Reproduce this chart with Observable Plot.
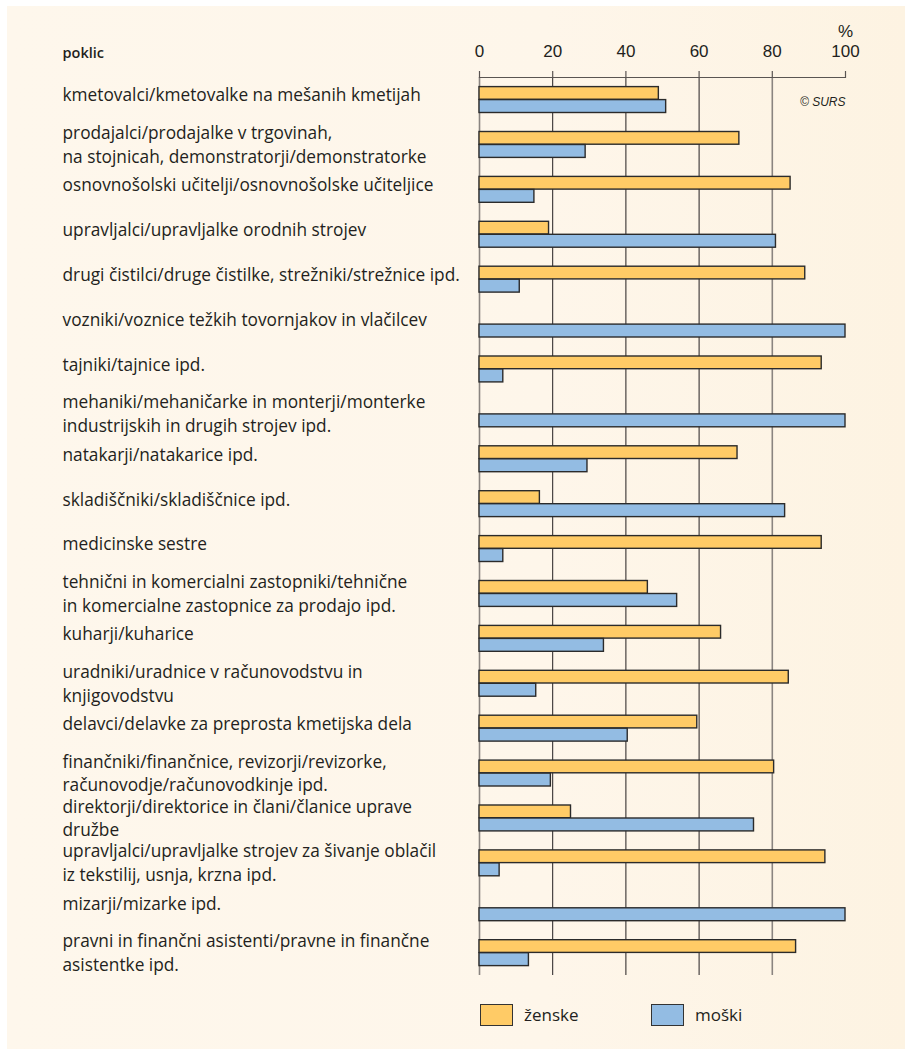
<!DOCTYPE html>
<html>
<head>
<meta charset="utf-8">
<script src="https://cdn.jsdelivr.net/npm/d3@7"></script>
<script src="https://cdn.jsdelivr.net/npm/@observablehq/plot@0.6"></script>
<style>
  html, body { margin: 0; padding: 0; background: #ffffff; }
  #page { position: relative; width: 905px; height: 1049px; overflow: hidden; }
  #panel { position: absolute; left: 7px; top: 6px; width: 898px; height: 1043px;
           background: linear-gradient(to right, #fef7ec 0%, #fef6ea 60%, #fdf3e2 100%); }
  #chart { position: absolute; left: 0; top: 0; }
  #legend { position: absolute; top: 1003px; left: 0; width: 905px; height: 24px;
            font-family: "Open Sans", Lato, sans-serif; font-size: 17px; color: #231f20; }
  .item { position: absolute; top: 0; display: flex; align-items: center; height: 23px; }
  .sw { width: 31px; height: 20px; border: 1.5px solid #333; margin-right: 11px; box-sizing: content-box; }
</style>
</head>
<body>
<div id="page">
  <div id="panel"></div>
  <div id="chart"></div>
  <div id="legend"></div>
</div>
<script>
// ---- data ----
const categories = [
  "kmetovalci/kmetovalke na mešanih kmetijah",
  "prodajalci/prodajalke v trgovinah,\nna stojnicah, demonstratorji/demonstratorke",
  "osnovnošolski učitelji/osnovnošolske učiteljice",
  "upravljalci/upravljalke orodnih strojev",
  "drugi čistilci/druge čistilke, strežniki/strežnice ipd.",
  "vozniki/voznice težkih tovornjakov in vlačilcev",
  "tajniki/tajnice ipd.",
  "mehaniki/mehaničarke in monterji/monterke\nindustrijskih in drugih strojev ipd.",
  "natakarji/natakarice ipd.",
  "skladiščniki/skladiščnice ipd.",
  "medicinske sestre",
  "tehnični in komercialni zastopniki/tehnične\nin komercialne zastopnice za prodajo ipd.",
  "kuharji/kuharice",
  "uradniki/uradnice v računovodstvu in\nknjigovodstvu",
  "delavci/delavke za preprosta kmetijska dela",
  "finančniki/finančnice, revizorji/revizorke,\nračunovodje/računovodkinje ipd.",
  "direktorji/direktorice in člani/članice uprave\ndružbe",
  "upravljalci/upravljalke strojev za šivanje oblačil\niz tekstilij, usnja, krzna ipd.",
  "mizarji/mizarke ipd.",
  "pravni in finančni asistenti/pravne in finančne\nasistentke ipd."
];
const zenske = [49, 71, 85, 19, 89, 0, 93.5, 0, 70.5, 16.5, 93.5, 46, 66, 84.5, 59.5, 80.5, 25, 94.5, 0, 86.5];
const moski  = [51, 29, 15, 81, 11, 100, 6.5, 100, 29.5, 83.5, 6.5, 54, 34, 15.5, 40.5, 19.5, 75, 5.5, 100, 13.5];
const seriesNames = ["ženske", "moški"];
const seriesColors = ["#ffcb66", "#93bce3"];
const xTicks = [0, 20, 40, 60, 80, 100];
const gridDark = [20, 40, 60];
const gridGrey = [0, 80];
const headerLabel = "poklic";
const unitLabel = "%";
const sourceLabel = "© SURS";

// ---- build tables ----
const rowsZ = categories.map((c, i) => ({cat: c, value: zenske[i]})).filter(d => d.value > 0);
const rowsM = categories.map((c, i) => ({cat: c, value: moski[i]})).filter(d => d.value > 0);
const singleLine = categories.filter(c => !c.includes("\n"));
const doubleLine = categories.filter(c => c.includes("\n"));
const sourceRow = [{cat: categories[0], text: sourceLabel}];

const labelFont = "'Open Sans', Lato, sans-serif";
const tickFont = "'Liberation Sans', Arial, sans-serif";

const chart = Plot.plot({
  width: 905,
  height: 985,
  marginTop: 77,
  marginBottom: 10,
  marginLeft: 479,
  marginRight: 60,
  style: {background: "transparent", fontFamily: tickFont, color: "#231f20"},
  x: {domain: [0, 100], axis: null},
  y: {domain: categories, padding: 0, round: false, axis: null},
  marks: [
    Plot.ruleX(gridDark, {stroke: "#231f20", strokeWidth: 1}),
    Plot.ruleX(gridGrey, {stroke: "#8a8480", strokeWidth: 1.6}),
    Plot.frame({stroke: "#5a5552", strokeWidth: 1.2, strokeDasharray: "366 100000"}),
    Plot.axisX(xTicks, {anchor: "top", tickSize: 7, tickPadding: 14, fontSize: 17,
      stroke: "#5a5552", strokeWidth: 1.2, fill: "#231f20", label: null, fontFamily: tickFont}),
    Plot.barX(rowsZ, {x: "value", y: "cat", fill: seriesColors[0], stroke: "#2b2b2b", strokeWidth: 1.4,
      insetTop: 9.6, insetBottom: 22.6}),
    Plot.barX(rowsM, {x: "value", y: "cat", fill: seriesColors[1], stroke: "#2b2b2b", strokeWidth: 1.4,
      insetTop: 22.6, insetBottom: 9.4}),
    Plot.text(singleLine, {y: d => d, frameAnchor: "left", textAnchor: "start", dx: -417, dy: -4,
      fontSize: 17.3, fontFamily: labelFont, fill: "#231f20"}),
    Plot.text(doubleLine, {y: d => d, frameAnchor: "left", textAnchor: "start", dx: -417, dy: -1.5,
      lineHeight: 1.37, fontSize: 17.3, fontFamily: labelFont, fill: "#231f20"}),
    Plot.text([headerLabel], {frameAnchor: "top-left", textAnchor: "start", dx: -417, dy: -30,
      fontSize: 14.5, fontWeight: 600, fontFamily: labelFont, fill: "#231f20"}),
    Plot.text([unitLabel], {x: 100, frameAnchor: "top", dy: -53, fontSize: 17, fontFamily: tickFont, fill: "#231f20"}),
    Plot.text(sourceRow, {x: 100, y: "cat", text: "text", textAnchor: "end", dy: 2, fontSize: 12,
      fontStyle: "italic", fontFamily: tickFont, fill: "#231f20"})
  ]
});
document.getElementById("chart").appendChild(chart);

// ---- legend ----
const legend = document.getElementById("legend");
const legendX = [480, 651];
seriesNames.forEach((name, i) => {
  const item = document.createElement("div");
  item.className = "item";
  item.style.left = legendX[i] + "px";
  const sw = document.createElement("div");
  sw.className = "sw";
  sw.style.background = seriesColors[i];
  const t = document.createElement("span");
  t.textContent = name;
  item.appendChild(sw);
  item.appendChild(t);
  legend.appendChild(item);
});
</script>
</body>
</html>
